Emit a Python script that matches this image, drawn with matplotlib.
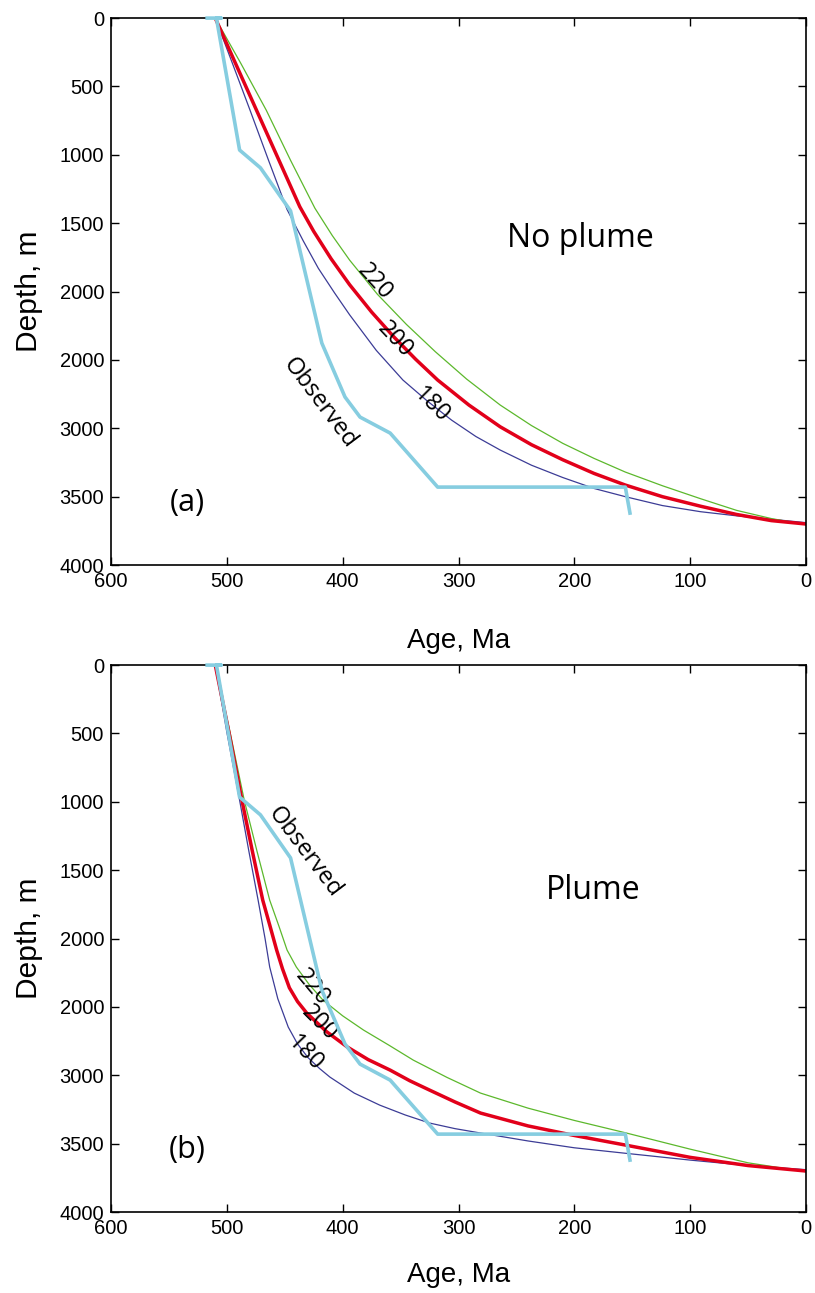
import matplotlib
matplotlib.use("Agg")
import matplotlib.pyplot as plt

# observed subsidence (same in both panels)
obs_age = [517, 505, 509, 489, 471, 445, 418, 398, 385, 359, 318, 156, 152]
obs_depth = [0, 0, 0, 965, 1095, 1410, 2377, 2771, 2918, 3035, 3430, 3430, 3620]

# panel (a): no plume
a_age_180 = [510, 495, 480, 464, 448, 434, 421, 407, 394, 371, 348, 327, 306, 285, 264,
             237, 210, 183, 156, 124, 91, 60, 30, 0]
a_dep_180 = [0, 335, 673, 1040, 1400, 1630, 1830, 2010, 2170, 2430, 2647, 2800, 2940, 3060, 3159,
             3270, 3360, 3440, 3500, 3565, 3610, 3640, 3665, 3690]
a_age_200 = [510, 491, 473, 455, 437, 425, 410, 394, 375, 356, 337, 318, 291, 264, 237,
             210, 183, 156, 124, 91, 60, 30, 0]
a_dep_200 = [0, 360, 700, 1040, 1380, 1560, 1760, 1950, 2150, 2330, 2495, 2647, 2830, 2989, 3120,
             3230, 3330, 3415, 3500, 3570, 3630, 3675, 3700]
a_age_220 = [510, 488, 466, 445, 424, 409, 394, 370, 345, 320, 293, 264, 237, 210, 183,
             156, 124, 91, 60, 30, 0]
a_dep_220 = [0, 330, 673, 1040, 1390, 1590, 1770, 2020, 2240, 2440, 2640, 2830, 2980, 3110, 3220,
             3320, 3420, 3515, 3600, 3660, 3705]

# panel (b): plume
b_age_180 = [510, 500, 489, 481, 473, 467, 463, 456, 447, 439, 430, 420, 411, 390, 368,
             346, 325, 303, 281, 240, 200, 156, 100, 50, 0]
b_dep_180 = [0, 490, 987, 1360, 1719, 2000, 2208, 2440, 2647, 2770, 2870, 2950, 3013, 3130, 3218,
             3290, 3349, 3390, 3422, 3480, 3530, 3570, 3620, 3660, 3690]
b_age_200 = [510, 498, 487, 478, 469, 463, 457, 452, 446, 439, 431, 414, 396, 378, 359,
             342, 325, 303, 281, 240, 200, 156, 100, 50, 0]
b_dep_200 = [0, 500, 987, 1360, 1719, 1900, 2084, 2220, 2360, 2460, 2545, 2680, 2793, 2885, 2962,
             3040, 3108, 3195, 3276, 3370, 3440, 3510, 3600, 3660, 3700]
b_age_220 = [510, 497, 485, 474, 463, 455, 448, 440, 429, 417, 400, 382, 360, 339, 310,
             281, 240, 200, 156, 100, 50, 0]
b_dep_220 = [0, 500, 987, 1360, 1719, 1910, 2084, 2208, 2335, 2450, 2565, 2669, 2780, 2889, 3015,
             3130, 3240, 3330, 3420, 3540, 3640, 3705]

yticks = [0, 500, 1000, 1500, 2000, 2500, 3000, 3500, 4000]
ytick_labels = ["0", "500", "1000", "1500", "2000", "2000", "3000", "3500", "4000"]
xticks = [600, 500, 400, 300, 200, 100, 0]

c_obs = "#86cde0"
c_red = "#e2001a"
c_green = "#5cb82c"
c_navy = "#3c3c96"

tick_font = "Liberation Sans"
note_font = "Open Sans"

fig = plt.figure(figsize=(8.15, 12.93), dpi=100)
ax_a = fig.add_axes([0.1362, 0.563, 0.8528, 0.423])
ax_b = fig.add_axes([0.1362, 0.0626, 0.8528, 0.423])


def setup(ax, xpad):
    ax.set_xlim(600, 0)
    ax.set_ylim(4000, 0)
    ax.set_xticks(xticks)
    ax.set_xticklabels([str(t) for t in xticks], fontfamily=tick_font, fontsize=14.5)
    ax.set_yticks(yticks)
    ax.set_yticklabels(ytick_labels, fontfamily=tick_font, fontsize=14.5)
    ax.tick_params(direction="in", length=6, width=1, top=True, right=True, pad=5)
    for s in ax.spines.values():
        s.set_linewidth(1.2)
    ax.set_xlabel("Age, Ma", fontfamily=tick_font, fontsize=20, labelpad=xpad)
    ax.set_ylabel("Depth, m", fontfamily=tick_font, fontsize=21.5, labelpad=12)


def curves(ax, ages, depths):
    ax.plot(ages[0], depths[0], color=c_navy, lw=0.9)
    ax.plot(ages[2], depths[2], color=c_green, lw=0.9)
    ax.plot(ages[1], depths[1], color=c_red, lw=2.5)
    ax.plot(obs_age, obs_depth, color=c_obs, lw=2.6, clip_on=False, zorder=5)


setup(ax_a, 27)
curves(ax_a, [a_age_180, a_age_200, a_age_220], [a_dep_180, a_dep_200, a_dep_220])
ax_a.text(195, 1609, "No plume", fontfamily=note_font, fontsize=23, ha="center", va="center")
ax_a.text(534, 3547, "(a)", fontfamily=note_font, fontsize=22, ha="center", va="center")
ax_a.text(372, 1930, "220", fontfamily=note_font, fontsize=17, rotation=-48, ha="center", va="center")
ax_a.text(355, 2355, "200", fontfamily=note_font, fontsize=17, rotation=-47, ha="center", va="center")
ax_a.text(323, 2830, "180", fontfamily=note_font, fontsize=17, rotation=-45, ha="center", va="center")
ax_a.text(420, 2815, "Observed", fontfamily=note_font, fontsize=17, rotation=-53, ha="center", va="center")

setup(ax_b, 17)
curves(ax_b, [b_age_180, b_age_200, b_age_220], [b_dep_180, b_dep_200, b_dep_220])
ax_b.text(184, 1645, "Plume", fontfamily=note_font, fontsize=23, ha="center", va="center")
ax_b.text(534, 3547, "(b)", fontfamily=note_font, fontsize=22, ha="center", va="center")
ax_b.text(426, 2355, "220", fontfamily=note_font, fontsize=17, rotation=-50, ha="center", va="center")
ax_b.text(420, 2618, "200", fontfamily=note_font, fontsize=17, rotation=-45, ha="center", va="center")
ax_b.text(432, 2837, "180", fontfamily=note_font, fontsize=17, rotation=-46, ha="center", va="center")
ax_b.text(433, 1370, "Observed", fontfamily=note_font, fontsize=17, rotation=-53, ha="center", va="center")

fig.savefig("out.png", dpi=100)
